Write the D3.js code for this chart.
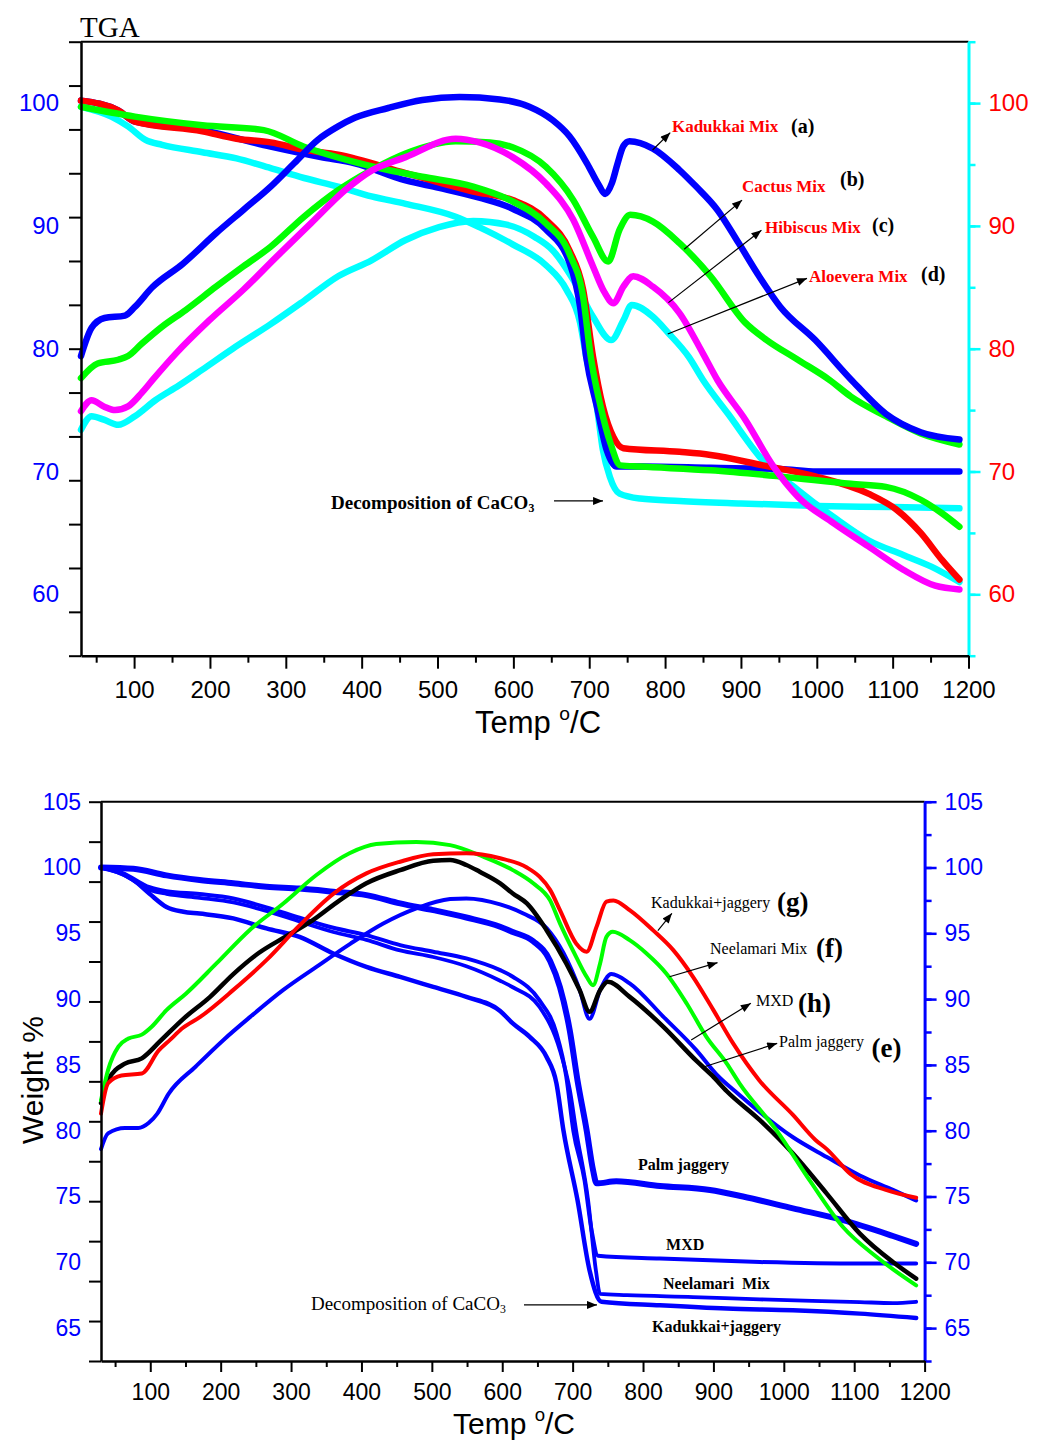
<!DOCTYPE html>
<html><head><meta charset="utf-8">
<script src="https://cdn.jsdelivr.net/npm/d3@7"></script>
<style>body{margin:0;background:#fff;}svg{display:block;}</style>
</head><body>
<svg id="chart" width="1051" height="1443"></svg>
<script>
// ---------------- DATA (temperature °C, weight %) ----------------
const tempDomain = [30, 1200];
const tempMajorTicks = d3.range(100, 1201, 100);
const tempMinorTicks = d3.range(50, 1200, 100);

// Top panel
const topWeightDomain = [55, 105];
const topLabelTicks = [60, 70, 80, 90, 100];
const topMinorTicks = d3.range(55, 105.01, 5);

const topAloeveraTGA = [[30,99.7],[70,98.9],[92,98.1],[115,97.0],[137,96.6],[190,96.0],[235,95.5],[280,94.7],[324,93.9],[369,93.2],[413,92.4],[458,91.8],[524,90.75],[555,89.9],[599,88.5],[643,86.8],[670,84.8],[688,82.1],[696,79.35],[710,75.3],[718,71.75],[727,69.6],[740,68.2],[767,67.8],[819,67.6],[900,67.4],[1000,67.2],[1100,67.1],[1188,67.0]];
const topAloeveraMix = [[30,73.4],[44,74.5],[61,74.2],[79,73.8],[101,74.5],[128,75.8],[159,77.0],[190,78.3],[230,80.0],[280,82.0],[324,83.9],[369,85.9],[413,87.2],[458,88.85],[502,89.9],[547,90.4],[591,90.1],[628,89.1],[652,88.0],[679,85.6],[705,82.6],[729,80.7],[745,82.3],[756,83.56],[784,82.6],[804,81.3],[831,79.35],[850,77.45],[883,74.7],[929,70.9],[975,68.5],[1022,66.3],[1068,64.4],[1114,63.2],[1151,62.25],[1188,61.0]];
const topKadukkaiTGA = [[30,100.2],[79,99.4],[101,98.5],[190,97.8],[280,96.45],[346,95.6],[391,95.1],[458,93.7],[502,93.1],[555,92.3],[599,91.4],[643,89.7],[674,87.0],[688,83.4],[696,79.35],[710,75.3],[723,71.75],[736,70.4],[770,70.4],[860,70.3],[952,70.2],[1000,70.0],[1100,70.0],[1188,70.0]];
const topCactusTGA = [[30,100.2],[79,99.4],[101,98.5],[190,97.7],[235,97.1],[280,96.8],[324,96.2],[369,95.8],[458,94.3],[547,92.8],[599,92.1],[643,90.5],[674,88.0],[692,84.8],[705,79.35],[718,75.3],[732,72.8],[745,71.9],[819,71.6],[860,71.35],[929,70.5],[998,69.6],[1068,68.2],[1105,66.9],[1137,65.0],[1165,62.8],[1188,61.2]];
const topHibiscusTGA = [[30,99.7],[101,98.9],[190,98.2],[271,97.8],[324,96.45],[391,95.2],[435,94.55],[480,94.0],[547,93.2],[599,92.0],[643,90.2],[674,87.7],[692,84.2],[702,79.35],[715,75.3],[728,72.3],[741,70.5],[767,70.4],[860,70.1],[952,69.6],[1045,69.0],[1091,68.75],[1137,67.7],[1165,66.6],[1188,65.5]];
const topCactusMix = [[30,77.6],[52,78.8],[79,79.1],[92,79.4],[110,80.4],[137,81.8],[168,83.15],[208,85.05],[244,86.7],[280,88.3],[324,90.75],[369,92.9],[413,94.55],[458,95.9],[524,96.9],[569,96.8],[599,96.4],[643,94.8],[679,92.1],[705,89.1],[725,87.1],[740,89.7],[754,90.9],[784,90.35],[819,88.6],[860,85.9],[906,82.1],[934,80.7],[975,79.1],[1017,77.45],[1045,76.1],[1091,74.5],[1137,73.1],[1188,72.2]];
const topHibiscusMix = [[30,74.9],[44,75.8],[60,75.3],[75,75.0],[92,75.3],[110,76.4],[125,77.5],[155,79.6],[199,82.3],[244,84.8],[288,87.5],[333,90.2],[378,92.9],[413,94.5],[458,95.6],[524,97.1],[555,96.8],[599,95.6],[643,93.45],[679,90.5],[705,86.7],[720,84.6],[732,83.7],[745,85.05],[758,85.9],[784,85.05],[819,82.9],[850,79.6],[869,77.45],[906,74.2],[943,70.4],[975,67.95],[1022,65.8],[1068,63.9],[1114,62.0],[1156,60.7],[1188,60.4]];
const topKadukkaiMix = [[30,79.4],[44,81.7],[61,82.5],[88,82.7],[101,83.4],[124,85.0],[164,86.9],[208,89.4],[244,91.3],[280,93.2],[311,95.1],[342,97.0],[369,98.1],[391,98.8],[435,99.6],[480,100.25],[529,100.5],[582,100.3],[621,99.7],[652,98.6],[674,97.3],[697,95.1],[712,93.4],[721,92.6],[730,93.5],[737,95.0],[745,96.5],[753,96.9],[784,96.3],[819,94.55],[841,93.2],[869,91.3],[897,88.6],[924,85.9],[952,83.4],[998,80.7],[1045,77.5],[1091,74.7],[1137,73.2],[1188,72.6]];

// Bottom panel
const botWeightDomain = [62.5, 105];
const botLabelTicks = [65, 70, 75, 80, 85, 90, 95, 100, 105];
const botMinorTicks = d3.range(62.5, 105.01, 2.5);

const botPalmJaggeryTGA = [[30,100.0],[76,99.9],[123,99.4],[170,99.05],[218,98.8],[265,98.54],[312,98.4],[360,98.16],[407,97.9],[455,97.27],[502,96.76],[549,96.2],[597,95.5],[615,95.1],[644,94.4],[668,92.9],[682,90.9],[696,87.6],[707,83.8],[720,80.0],[729,77.0],[734,76.0],[762,76.15],[824,75.8],[895,75.5],[942,75.0],[1013,74.1],[1084,73.2],[1155,72.0],[1188,71.4]];
const botMxdTGA = [[30,100.0],[60,99.6],[99,98.5],[123,98.2],[170,97.98],[218,97.65],[265,96.97],[312,96.18],[360,95.42],[407,94.86],[455,94.1],[502,93.6],[549,93.09],[597,92.2],[615,91.7],[653,89.9],[677,87.4],[691,84.1],[701,80.0],[717,76.2],[727,72.4],[736,70.5],[824,70.28],[966,70.02],[1108,69.9],[1188,69.9]];
const botNeelamariTGA = [[30,100.0],[60,99.5],[99,98.3],[123,98.0],[170,97.7],[218,97.35],[265,96.7],[312,95.9],[360,95.1],[407,94.5],[455,93.7],[502,93.2],[549,92.5],[597,91.4],[615,90.9],[653,89.4],[682,86.1],[696,83.1],[705,80.0],[722,74.7],[733,69.4],[739,67.6],[777,67.5],[871,67.36],[966,67.18],[1108,66.98],[1155,66.9],[1188,67.0]];
const botKadukkaiJaggeryTGA = [[30,100.0],[76,99.05],[99,98.0],[123,97.0],[147,96.64],[170,96.5],[218,96.13],[265,95.37],[312,94.73],[360,93.47],[407,92.45],[455,91.69],[502,90.93],[549,90.17],[597,89.1],[615,88.15],[639,87.13],[663,85.6],[677,83.6],[687,80.0],[707,74.7],[724,69.4],[741,67.0],[824,66.73],[919,66.48],[1013,66.35],[1108,66.1],[1188,65.77]];
const botMxd = [[30,78.6],[40,79.8],[64,80.2],[83,80.2],[98,80.6],[110,81.3],[126,82.8],[165,84.9],[204,86.9],[242,88.65],[289,90.7],[336,92.45],[384,94.2],[431,95.75],[478,96.9],[526,97.6],[549,97.65],[597,97.2],[630,96.5],[663,95.4],[687,93.5],[710,90.7],[724,88.5],[739,90.7],[755,91.9],[781,91.2],[829,88.65],[876,86.1],[904,84.3],[935,82.8],[966,81.4],[1013,79.5],[1061,78.0],[1108,76.6],[1155,75.5],[1188,74.7]];
const botPalmJaggery = [[30,82.1],[40,83.84],[64,85.1],[88,85.5],[114,86.8],[147,88.5],[185,90.17],[218,91.9],[254,93.5],[294,94.8],[331,96.0],[369,97.5],[407,98.8],[455,99.8],[502,100.51],[526,100.57],[549,100.19],[568,99.68],[597,98.8],[615,98.03],[635,97.27],[663,95.24],[691,92.71],[710,90.68],[724,89.03],[739,90.68],[750,91.31],[781,90.17],[829,87.89],[876,85.3],[898,84.2],[919,83.0],[966,80.8],[1013,78.26],[1061,75.22],[1108,72.18],[1155,70.02],[1188,68.76]];
const botNeelamariMix = [[30,82.3],[40,84.6],[55,86.4],[69,87.0],[88,87.3],[102,87.9],[123,89.16],[151,90.43],[194,92.71],[241,95.24],[289,97.27],[336,99.43],[383,101.08],[421,101.78],[478,101.94],[526,101.7],[573,100.82],[615,99.8],[644,98.8],[668,97.5],[682,95.75],[705,93.21],[720,91.69],[729,91.06],[739,92.71],[748,94.73],[757,95.11],[781,94.48],[805,93.47],[833,91.95],[862,89.67],[890,87.13],[919,85.1],[937,83.6],[990,80.0],[1037,76.2],[1084,72.68],[1132,70.4],[1188,68.25]];
const botKadukkaiJaggery = [[30,81.3],[40,83.6],[59,84.2],[88,84.35],[112,86.1],[128,86.9],[146,87.8],[171,88.65],[218,90.7],[265,92.96],[312,95.6],[360,98.0],[407,99.55],[455,100.44],[502,101.0],[549,101.08],[597,100.7],[635,100.0],[653,99.3],[668,98.3],[682,96.76],[705,94.23],[720,93.6],[734,95.5],[748,97.4],[758,97.5],[781,96.76],[814,95.24],[843,93.72],[871,91.69],[900,89.16],[928,86.63],[965,83.84],[1013,81.2],[1045,79.3],[1061,78.6],[1095,76.7],[1145,75.5],[1188,74.9]];

// ---------------- LAYOUT ----------------
const SANS = "'Liberation Sans', Arial, sans-serif";
const SERIF = "'Liberation Serif', 'Times New Roman', serif";
const svg = d3.select("#chart");
svg.append("rect").attr("width", 1051).attr("height", 1443).attr("fill", "#fff");

const defs = svg.append("defs");
defs.append("marker").attr("id", "arrowHead").attr("viewBox", "0 0 10 8")
  .attr("refX", 10).attr("refY", 4).attr("markerWidth", 11).attr("markerHeight", 8)
  .attr("markerUnits", "userSpaceOnUse").attr("orient", "auto")
  .append("path").attr("d", "M0,0L10,4L0,8Z").attr("fill", "#000");

function drawPanel(cfg) {
  const x = d3.scaleLinear().domain(tempDomain).range([cfg.left, cfg.right]);
  const y = d3.scaleLinear().domain(cfg.yDomain).range([cfg.bottom, cfg.top]);
  const line = d3.line().x(d => x(d[0])).y(d => y(d[1])).curve(d3.curveMonotoneX);
  const g = svg.append("g");

  cfg.series.forEach(s => {
    g.append("path").attr("d", line(s.data)).attr("fill", "none")
      .attr("stroke", s.color).attr("stroke-width", s.width)
      .attr("stroke-linejoin", "round").attr("stroke-linecap", "round");
  });

  // top frame line
  g.append("line").attr("x1", cfg.left).attr("x2", cfg.right)
    .attr("y1", cfg.top).attr("y2", cfg.top).attr("stroke", "#000").attr("stroke-width", 2);

  // left axis: ticks (14 equal intervals) + labels
  const yTick = d3.scaleLinear().domain([0, 14]).range([cfg.bottom, cfg.top]);
  const lt = g.append("g").attr("transform", `translate(${cfg.left},0)`)
    .call(d3.axisLeft(yTick).tickValues(d3.range(0, 15)).tickSize(12).tickSizeOuter(0).tickFormat(""));
  lt.select(".domain").attr("stroke-width", 2.5);
  lt.selectAll(".tick line").attr("stroke-width", 2);
  const ll = g.append("g").attr("transform", `translate(${cfg.left},0)`)
    .call(d3.axisLeft(y).tickValues(cfg.labelTicks).tickSize(0).tickPadding(cfg.leftPad).tickFormat(d3.format("d")));
  ll.select(".domain").remove();
  ll.attr("font-size", null).attr("font-family", null);
  ll.selectAll("text").attr("fill", cfg.leftLabelColor).style("font-family", SANS).style("font-size", cfg.tickFont + "px");

  // right axis
  const rm = g.append("g").attr("transform", `translate(${cfg.right},0)`)
    .call(d3.axisRight(y).tickValues(cfg.minorTicks).tickSize(7).tickSizeOuter(0).tickFormat(""));
  rm.select(".domain").attr("stroke", cfg.rightColor).attr("stroke-width", 3);
  rm.selectAll(".tick line").attr("stroke", cfg.rightColor).attr("stroke-width", 2.5);
  const rM = g.append("g").attr("transform", `translate(${cfg.right},0)`)
    .call(d3.axisRight(y).tickValues(cfg.labelTicks).tickSize(12).tickPadding(8).tickFormat(d3.format("d")));
  rM.select(".domain").remove();
  rM.attr("font-size", null).attr("font-family", null);
  rM.selectAll(".tick line").attr("stroke", cfg.rightColor).attr("stroke-width", 2.5);
  rM.selectAll("text").attr("fill", cfg.rightLabelColor).style("font-family", SANS).style("font-size", cfg.tickFont + "px");

  // bottom axis
  const bm = g.append("g").attr("transform", `translate(0,${cfg.bottom})`)
    .call(d3.axisBottom(x).tickValues(tempMinorTicks).tickSize(cfg.xMinor).tickSizeOuter(0).tickFormat(""));
  bm.select(".domain").attr("stroke-width", 2.5);
  bm.selectAll(".tick line").attr("stroke-width", 2);
  const bM = g.append("g").attr("transform", `translate(0,${cfg.bottom})`)
    .call(d3.axisBottom(x).tickValues(tempMajorTicks).tickSize(cfg.xMajor).tickPadding(cfg.xPad).tickFormat(d3.format("d")));
  bM.select(".domain").remove();
  bM.attr("font-size", null).attr("font-family", null);
  bM.selectAll(".tick line").attr("stroke-width", 2);
  bM.selectAll("text").attr("fill", "#000").style("font-family", SANS).style("font-size", cfg.tickFont + "px");

  // x title
  const xt = g.append("text").attr("x", cfg.xTitleX).attr("y", cfg.xTitleY)
    .attr("text-anchor", "middle").style("font-family", SANS).style("font-size", cfg.titleFont + "px");
  xt.append("tspan").text("Temp ");
  xt.append("tspan").attr("dy", -cfg.titleFont * 0.42).style("font-size", (cfg.titleFont * 0.62) + "px").text("o");
  xt.append("tspan").attr("dy", cfg.titleFont * 0.42).text("/C");

  // curve callouts
  cfg.callouts.forEach(c => {
    g.append("line").attr("x1", x(c.from[0])).attr("y1", y(c.from[1]))
      .attr("x2", x(c.to[0])).attr("y2", y(c.to[1]))
      .attr("stroke", "#000").attr("stroke-width", 1.2).attr("marker-end", "url(#arrowHead)");
    g.append("text").attr("x", x(c.pos[0])).attr("y", y(c.pos[1]))
      .attr("fill", cfg.calloutColor).style("font-family", SERIF)
      .style("font-weight", cfg.calloutWeight).style("font-size", cfg.calloutFont + "px").text(c.name);
    g.append("text").attr("x", x(c.tagPos[0])).attr("y", y(c.tagPos[1]))
      .attr("fill", "#000").style("font-family", SERIF).style("font-weight", "bold")
      .style("font-size", cfg.tagFont + "px").text(c.tag);
  });

  // plain labels (bottom panel)
  (cfg.plainLabels || []).forEach(p => {
    g.append("text").attr("x", x(p.pos[0])).attr("y", y(p.pos[1]))
      .attr("fill", "#000").style("font-family", SERIF).style("font-weight", "bold")
      .style("font-size", "16px").style("white-space", "pre").attr("xml:space", "preserve").text(p.name);
  });

  // decomposition note
  const d = cfg.decomp;
  const dt = g.append("text").attr("x", x(d.pos[0])).attr("y", y(d.pos[1]))
    .attr("fill", "#000").style("font-family", SERIF).style("font-weight", d.weight)
    .style("font-size", d.font + "px");
  dt.append("tspan").text("Decomposition of CaCO");
  dt.append("tspan").attr("dy", 3).style("font-size", (d.font * 0.62) + "px").text("3");
  g.append("line").attr("x1", x(d.from)).attr("x2", x(d.to)).attr("y1", y(d.arrowW)).attr("y2", y(d.arrowW))
    .attr("stroke", "#000").attr("stroke-width", 1.2).attr("marker-end", "url(#arrowHead)");
  return {x, y};
}

// ---------------- TOP PANEL ----------------
drawPanel({
  left: 81, right: 968.5, top: 41.7, bottom: 655.7,
  yDomain: topWeightDomain, labelTicks: topLabelTicks, minorTicks: topMinorTicks,
  leftLabelColor: "#0000ff", rightLabelColor: "#ff0000", rightColor: "#00ffff",
  leftPad: 22, tickFont: 24, xMinor: 7, xMajor: 13, xPad: 12,
  titleFont: 31, xTitleX: 538, xTitleY: 733,
  series: [
    {data: topAloeveraTGA, color: "#00ffff", width: 6.5},
    {data: topAloeveraMix, color: "#00ffff", width: 6.5},
    {data: topKadukkaiTGA, color: "#0000ff", width: 6.5},
    {data: topCactusTGA, color: "#ff0000", width: 6.5},
    {data: topHibiscusTGA, color: "#00ff00", width: 6.5},
    {data: topCactusMix, color: "#00ff00", width: 6.5},
    {data: topHibiscusMix, color: "#ff00ff", width: 6.5},
    {data: topKadukkaiMix, color: "#0000ff", width: 6.5}
  ],
  calloutColor: "#ff0000", calloutWeight: "bold", calloutFont: 17, tagFont: 20,
  callouts: [
    {name: "Kadukkai Mix", tag: "(a)", pos: [809, 97.65], tagPos: [966, 97.57], from: [783.5, 96.18], to: [806.8, 97.59]},
    {name: "Cactus Mix", tag: "(b)", pos: [901.4, 92.76], tagPos: [1030.6, 93.25], from: [825.2, 88.1], to: [901.5, 92.1]},
    {name: "Hibiscus Mix", tag: "(c)", pos: [931.7, 89.42], tagPos: [1072.8, 89.5], from: [804.4, 83.75], to: [927, 89.65]},
    {name: "Aloevera Mix", tag: "(d)", pos: [989.7, 85.43], tagPos: [1137.4, 85.5], from: [803.5, 81.2], to: [987.1, 85.73]}
  ],
  decomp: {pos: [359.6, 66.95], weight: "bold", font: 19, from: 653.6, to: 718.2, arrowW: 67.6}
});
svg.append("text").attr("x", 80).attr("y", 37).style("font-family", SERIF).style("font-size", "29px").text("TGA");

// ---------------- BOTTOM PANEL ----------------
drawPanel({
  left: 101, right: 924.6, top: 801.7, bottom: 1361,
  yDomain: botWeightDomain, labelTicks: botLabelTicks, minorTicks: botMinorTicks,
  leftLabelColor: "#0000ff", rightLabelColor: "#0000ff", rightColor: "#0000ff",
  leftPad: 20, tickFont: 23, xMinor: 6, xMajor: 11, xPad: 11.5,
  titleFont: 30, xTitleX: 514, xTitleY: 1434,
  series: [
    {data: botPalmJaggeryTGA, color: "#0000ff", width: 6},
    {data: botMxdTGA, color: "#0000ff", width: 4},
    {data: botNeelamariTGA, color: "#0000ff", width: 3.8},
    {data: botKadukkaiJaggeryTGA, color: "#0000ff", width: 4.5},
    {data: botMxd, color: "#0000ff", width: 4},
    {data: botPalmJaggery, color: "#000000", width: 4.5},
    {data: botNeelamariMix, color: "#00ff00", width: 4},
    {data: botKadukkaiJaggery, color: "#ff0000", width: 4}
  ],
  calloutColor: "#000", calloutWeight: "normal", calloutFont: 16, tagFont: 27,
  callouts: [
    {name: "Kadukkai+jaggery", tag: "(g)", pos: [811.3, 96.92], tagPos: [990.3, 96.7], from: [821.1, 95.2], to: [841, 96.52]},
    {name: "Neelamari Mix", tag: "(f)", pos: [895.2, 93.43], tagPos: [1045.7, 93.2], from: [837.6, 91.7], to: [905.8, 92.77]},
    {name: "MXD", tag: "(h)", pos: [960.6, 89.48], tagPos: [1020.1, 89.02], from: [868.4, 86.9], to: [953.2, 89.68]},
    {name: "Palm jaggery", tag: "(e)", pos: [993.2, 86.36], tagPos: [1124.5, 85.6], from: [884.9, 84.82], to: [990.6, 86.64]}
  ],
  plainLabels: [
    {name: "Palm jaggery", pos: [792.9, 76.98]},
    {name: "MXD", pos: [832.7, 70.9]},
    {name: "Neelamari  Mix", pos: [828.4, 67.97]},
    {name: "Kadukkai+jaggery", pos: [812.7, 64.7]}
  ],
  decomp: {pos: [328.3, 66.38], weight: "normal", font: 19, from: 630.9, to: 734.6, arrowW: 66.76}
});
svg.append("text").attr("transform", "translate(43,1080) rotate(-90)").attr("text-anchor", "middle")
  .style("font-family", SANS).style("font-size", "30px").text("Weight %");
</script>
</body></html>
